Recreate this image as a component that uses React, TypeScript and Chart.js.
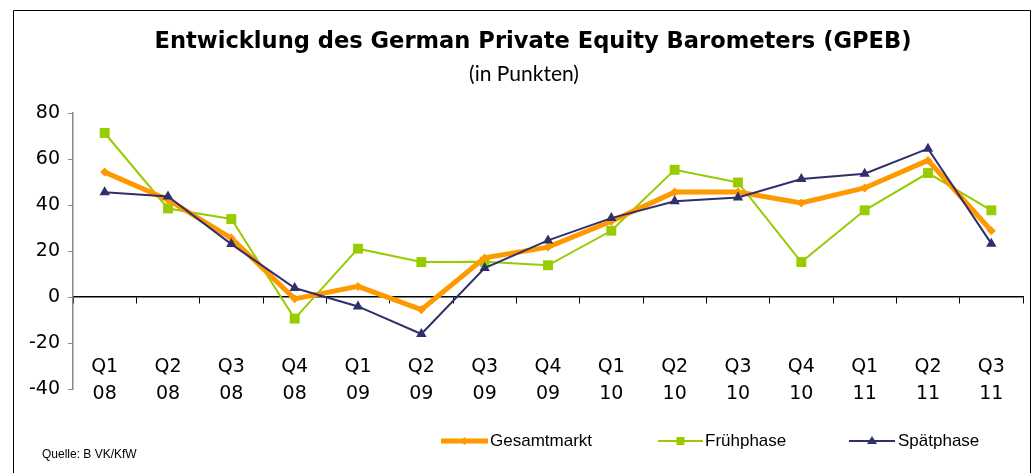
import React, { useEffect, useRef } from "react";
import { Chart, registerables } from "chart.js";

Chart.register(...registerables);

const categories: string[][] = [
  ["Q1", "08"], ["Q2", "08"], ["Q3", "08"], ["Q4", "08"],
  ["Q1", "09"], ["Q2", "09"], ["Q3", "09"], ["Q4", "09"],
  ["Q1", "10"], ["Q2", "10"], ["Q3", "10"], ["Q4", "10"],
  ["Q1", "11"], ["Q2", "11"], ["Q3", "11"],
];

const gesamtmarkt = [54.3, 42.3, 25.6, -0.8, 4.6, -5.5, 17.0, 21.7, 32.9, 45.6, 45.6, 40.9, 47.4, 59.4, 28.8];
const fruehphase = [71.3, 38.5, 33.9, -9.4, 21.0, 15.2, 15.3, 13.8, 28.8, 55.3, 49.8, 15.2, 37.7, 53.9, 37.7];
const spaetphase = [45.5, 43.7, 23.0, 3.9, -4.1, -16.1, 12.6, 24.6, 34.3, 41.6, 43.3, 51.3, 53.6, 64.5, 23.2];

const seriesNames = ["Gesamtmarkt", "Frühphase", "Spätphase"];
const yTicks = { min: -40, max: 80, step: 20 };

const titleText = "Entwicklung des German Private Equity Barometers (GPEB)";
const subtitleText = "(in Punkten)";
const sourceText = "Quelle: B VK/KfW";

const COLORS = { orange: "#FF9900", green: "#99CC00", navy: "#2F2F6B" };

const decorPlugin = {
  id: "decor",
  afterDraw(chart: any) {
    const ctx = chart.ctx as CanvasRenderingContext2D;
    ctx.save();
    // frame
    ctx.strokeStyle = "#000";
    ctx.lineWidth = 1;
    ctx.beginPath();
    ctx.moveTo(13.5, 473);
    ctx.lineTo(13.5, 10.5);
    ctx.lineTo(1030.5, 10.5);
    ctx.lineTo(1030.5, 473);
    ctx.stroke();

    // title
    ctx.fillStyle = "#000";
    ctx.textAlign = "center";
    ctx.textBaseline = "middle";
    ctx.font = "bold 22.6px 'DejaVu Sans'";
    ctx.fillText(titleText, 533, 42);
    ctx.font = "21px 'Lato'";
    ctx.fillText(subtitleText, 524, 74);

    // source
    ctx.textAlign = "left";
    ctx.font = "12px 'Liberation Sans'";
    ctx.fillText(sourceText, 42, 455);

    // legend
    const items = [
      { x0: 441, x1: 488, tx: 490, ds: 0 },
      { x0: 658, x1: 703, tx: 705, ds: 1 },
      { x0: 849, x1: 895, tx: 898, ds: 2 },
    ];
    const ly = 441;
    items.forEach((it) => {
      const ds = chart.data.datasets[it.ds];
      ctx.strokeStyle = ds.borderColor;
      ctx.lineWidth = ds.borderWidth;
      ctx.beginPath();
      ctx.moveTo(it.x0, ly);
      ctx.lineTo(it.x1, ly);
      ctx.stroke();
      const cx = (it.x0 + it.x1) / 2;
      ctx.fillStyle = ds.pointBackgroundColor;
      ctx.beginPath();
      if (ds.pointStyle === "rectRot") {
        ctx.moveTo(cx, ly - 4);
        ctx.lineTo(cx + 4, ly);
        ctx.lineTo(cx, ly + 4);
        ctx.lineTo(cx - 4, ly);
      } else if (ds.pointStyle === "rect") {
        ctx.rect(cx - 4, ly - 4, 8, 8);
      } else {
        ctx.moveTo(cx, ly - 5);
        ctx.lineTo(cx + 5, ly + 3);
        ctx.lineTo(cx - 5, ly + 3);
      }
      ctx.closePath();
      ctx.fill();
      ctx.fillStyle = "#000";
      ctx.font = "17px 'Liberation Sans'";
      ctx.textBaseline = "middle";
      ctx.fillText(seriesNames[it.ds], it.tx, ly);
    });
    ctx.restore();
  },
};

export default function App() {
  const ref = useRef<HTMLCanvasElement>(null);

  useEffect(() => {
    if (!ref.current) return;
    const chart = new Chart(ref.current, {
      type: "line",
      data: {
        labels: categories,
        datasets: [
          {
            label: seriesNames[0],
            data: gesamtmarkt,
            borderColor: COLORS.orange,
            backgroundColor: COLORS.orange,
            pointBackgroundColor: COLORS.orange,
            pointBorderColor: COLORS.orange,
            borderWidth: 5,
            pointStyle: "rectRot",
            pointRadius: 4.5,
            pointBorderWidth: 0,
            order: 1,
          },
          {
            label: seriesNames[1],
            data: fruehphase,
            borderColor: COLORS.green,
            backgroundColor: COLORS.green,
            pointBackgroundColor: COLORS.green,
            pointBorderColor: COLORS.green,
            borderWidth: 2,
            pointStyle: "rect",
            pointRadius: 7,
            pointBorderWidth: 0,
            order: 2,
          },
          {
            label: seriesNames[2],
            data: spaetphase,
            borderColor: COLORS.navy,
            backgroundColor: COLORS.navy,
            pointBackgroundColor: COLORS.navy,
            pointBorderColor: COLORS.navy,
            borderWidth: 2,
            pointStyle: "triangle",
            pointRadius: 6,
            pointBorderWidth: 0,
            order: 0,
          },
        ],
      },
      options: {
        responsive: false,
        animation: false,
        layout: { padding: { left: 13, right: 11, top: 113, bottom: 84 } },
        plugins: {
          legend: { display: false },
          tooltip: { enabled: false },
          title: { display: false },
        },
        elements: { line: { tension: 0 } },
        scales: {
          x: {
            type: "category",
            offset: true,
            position: { y: 0 } as any,
            afterFit: (scale: any) => {
              scale.paddingLeft = 0;
              scale.paddingRight = 0;
            },
            grid: {
              drawOnChartArea: false,
              drawTicks: true,
              tickLength: 6,
              offset: true,
              color: "#000",
              lineWidth: 1,
            },
            border: { color: "#000", width: 1.5 },
            ticks: {
              color: "#000",
              font: { family: "'DejaVu Sans'", size: 19, lineHeight: 1.42 },
              padding: 51,
              maxRotation: 0,
              autoSkip: false,
            },
          },
          y: {
            min: yTicks.min,
            max: yTicks.max,
            afterFit: (scale: any) => {
              scale.width = 60;
            },
            grid: {
              drawOnChartArea: false,
              drawTicks: true,
              tickLength: 5,
              color: "#888",
            },
            border: { color: "#888", width: 1.5 },
            ticks: {
              stepSize: yTicks.step,
              color: "#000",
              padding: 8,
              font: { family: "'DejaVu Sans'", size: 19 },
            },
          },
        },
      },
      plugins: [decorPlugin],
    });
    return () => chart.destroy();
  }, []);

  return (
    <div style={{ position: "fixed", left: 0, top: 0, width: 1034, height: 473, background: "#fff" }}>
      <canvas ref={ref} width={1034} height={473} />
    </div>
  );
}
